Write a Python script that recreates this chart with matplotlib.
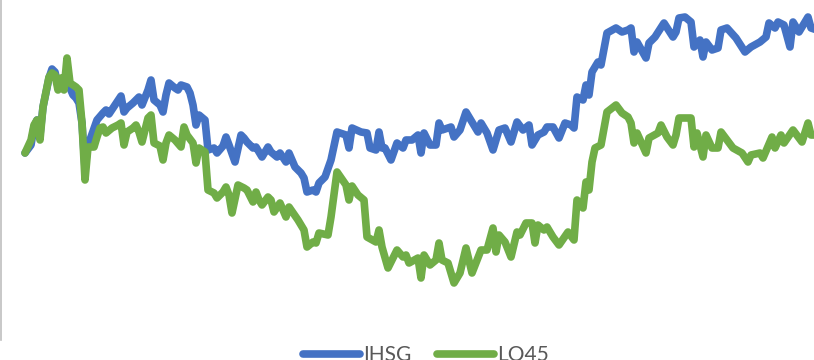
import matplotlib.pyplot as plt

# IHSG vs LQ45, cumulative return (%) per trading day
ihsg_day = [0, 2, 3, 4, 5, 6, 8, 9, 10, 11, 12, 13, 14, 15, 16, 17, 18, 19, 20, 21,
            22, 24, 26, 27, 28, 30, 32, 33, 34, 36, 37, 38, 39, 41, 42, 43, 45, 46, 47, 48,
            50, 51, 52, 54, 55, 56, 57, 58, 60, 61, 63, 64, 66, 67, 68, 70, 72, 73, 74, 76,
            77, 78, 79, 81, 82, 84, 85, 87, 88, 90, 92, 93, 94, 96, 97, 98, 100, 102, 104, 107,
            108, 109, 112, 114, 115, 117, 118, 119, 120, 122, 124, 126, 127, 129, 131, 132, 133, 135, 137, 138,
            139, 142, 143, 145, 147, 149, 151, 152, 154, 156, 158, 160, 162, 164, 166, 168, 169, 171, 173, 174,
            176, 178, 180, 182, 183, 184, 186, 187, 188, 189, 191, 192, 194, 197, 199, 201, 202, 203, 204, 207,
            208, 210, 213, 216, 217, 218, 220, 222, 223, 225, 226, 227, 229, 231, 232, 234, 237, 240, 242, 245,
            247, 248, 250, 251, 253, 255, 256, 258, 261, 262, 264]
ihsg_ret = [0.0, 0.8, 2.6, 3.3, 1.8, 4.6, 7.5, 8.4, 8.1, 6.8, 7.3, 6.5, 7.3, 6.5, 5.8, 5.5, 5.0, 3.0, -1.5, 0.8,
            1.6, 3.3, 4.0, 4.3, 3.9, 4.8, 5.7, 4.1, 4.5, 5.0, 5.3, 5.6, 4.8, 6.3, 7.3, 5.3, 4.8, 4.1, 5.8, 7.0,
            6.5, 6.3, 6.8, 6.6, 6.0, 4.8, 2.8, 3.8, 3.3, 0.3, 0.5, 0.0, 0.7, 1.6, 0.8, -0.9, 1.8, 1.5, 1.1, 0.5,
            0.6, 0.1, -0.4, 0.6, 0.1, -0.4, 0.0, -0.9, 0.0, -1.4, -2.0, -2.5, -3.9, -3.7, -3.9, -3.0, -2.4, -0.7, 2.1, 1.8,
            0.5, 2.5, 2.1, 2.0, 0.5, 0.3, 2.1, 0.5, 0.5, -0.7, 1.0, 0.5, 1.3, 1.3, 1.8, 0.0, 2.0, 0.8, 0.8, 3.0,
            2.3, 2.6, 1.6, 2.3, 4.1, 3.1, 2.1, 3.0, 2.0, 0.3, 2.3, 2.5, 1.1, 3.1, 2.3, 2.8, 0.8, 1.8, 2.1, 2.6,
            2.6, 1.5, 3.0, 2.8, 2.5, 5.6, 5.3, 6.8, 5.8, 8.1, 9.1, 8.8, 12.0, 12.5, 12.1, 12.3, 12.5, 10.1, 11.1, 9.5,
            11.0, 11.6, 13.0, 11.6, 12.1, 13.5, 13.6, 13.1, 10.6, 11.3, 9.6, 11.1, 10.3, 10.5, 12.3, 12.5, 11.5, 10.1, 10.6, 11.1,
            11.6, 13.0, 12.5, 13.1, 12.8, 10.6, 13.1, 12.1, 13.6, 12.5, 12.3]

lq45_day = [0, 2, 3, 4, 5, 6, 8, 9, 10, 11, 12, 13, 14, 15, 17, 18, 19, 20, 21, 23,
            24, 25, 26, 27, 29, 31, 32, 33, 34, 36, 37, 38, 39, 41, 42, 43, 45, 46, 47, 48,
            50, 52, 53, 54, 56, 57, 58, 60, 61, 63, 64, 66, 67, 68, 69, 71, 73, 74, 76, 77,
            78, 79, 81, 82, 83, 85, 87, 88, 91, 93, 94, 96, 97, 98, 101, 102, 104, 107, 108, 109,
            111, 113, 114, 117, 118, 119, 121, 124, 126, 127, 128, 131, 132, 133, 135, 137, 138, 139, 141, 143,
            145, 147, 149, 152, 154, 156, 157, 158, 160, 162, 164, 165, 167, 169, 170, 171, 173, 174, 176, 178,
            181, 183, 184, 186, 187, 188, 189, 190, 192, 194, 197, 199, 201, 202, 203, 204, 207, 208, 211, 212,
            214, 216, 217, 218, 221, 222, 223, 224, 226, 227, 229, 231, 232, 234, 236, 239, 241, 242, 245, 246,
            249, 250, 252, 253, 256, 259, 261, 262, 264]
lq45_ret = [0.0, 1.3, 2.8, 3.3, 1.3, 4.6, 7.6, 8.0, 7.8, 6.3, 7.5, 6.3, 9.5, 7.0, 6.6, 6.3, 3.0, -2.7, 0.6, 0.6,
            1.6, 2.5, 2.6, 2.0, 2.5, 2.8, 3.0, 0.8, 2.1, 2.5, 2.8, 2.1, 1.1, 3.5, 3.8, 1.0, 0.7, -0.7, 1.0, 1.8,
            1.3, 0.6, 2.6, 1.8, 1.0, -1.0, 0.5, 0.1, -3.7, -4.0, -4.5, -3.9, -3.4, -4.2, -6.0, -3.2, -3.5, -3.7, -4.9, -3.9,
            -4.7, -5.2, -4.4, -4.7, -5.9, -5.0, -6.4, -5.4, -6.7, -7.7, -9.4, -8.9, -9.0, -8.0, -8.2, -6.4, -1.9, -3.2, -4.7, -3.3,
            -4.2, -4.7, -8.4, -8.9, -7.7, -9.4, -11.5, -9.7, -10.4, -10.2, -11.0, -10.5, -12.5, -10.2, -11.2, -10.7, -9.0, -10.7, -11.0, -13.0,
            -12.0, -9.5, -12.0, -9.7, -9.7, -7.5, -9.9, -8.2, -8.9, -10.4, -7.9, -8.2, -7.0, -7.0, -9.0, -7.2, -7.7, -7.4, -8.4, -9.2,
            -7.9, -8.7, -4.7, -5.5, -2.9, -3.7, -0.9, 0.5, 0.8, 4.1, 4.8, 4.0, 3.6, 3.0, 1.0, 2.0, 0.0, 1.5, 2.0, 2.8,
            1.6, 0.8, 1.8, 3.5, 3.5, 3.5, 0.6, 2.0, -0.4, 1.8, 0.5, 0.5, 2.1, 1.3, 0.5, 0.0, -0.9, -0.2, 0.0, -0.5,
            1.6, 0.5, 1.8, 1.0, 2.3, 1.1, 3.0, 1.8, 1.8]

fig = plt.figure(figsize=(8.14, 3.6), dpi=100)
ax = fig.add_axes([1 / 814, 20 / 360, 813 / 814, 340 / 360])

ax.plot(ihsg_day, ihsg_ret, color="#4472C4", linewidth=5.5, solid_joinstyle="round",
        solid_capstyle="round", label="IHSG")
ax.plot(lq45_day, lq45_ret, color="#70AD47", linewidth=5.5, solid_joinstyle="round",
        solid_capstyle="round", label="LQ45")

ax.set_xlim(-8, 263)
ax.set_ylim(-18.7, 15.3)
ax.set_xticks([])
ax.set_yticks([])
for side in ["top", "right", "bottom"]:
    ax.spines[side].set_visible(False)
ax.spines["left"].set_color("#BFBFBF")
ax.spines["left"].set_linewidth(1.2)

fig.legend(loc="center", bbox_to_anchor=(426 / 814, 5 / 360), ncol=2, frameon=False,
           handlelength=2.75, handletextpad=0.15, columnspacing=1.2,
           prop={"family": "Lato", "size": 15}, labelcolor="#595959")

fig.savefig("out.png", dpi=100)
